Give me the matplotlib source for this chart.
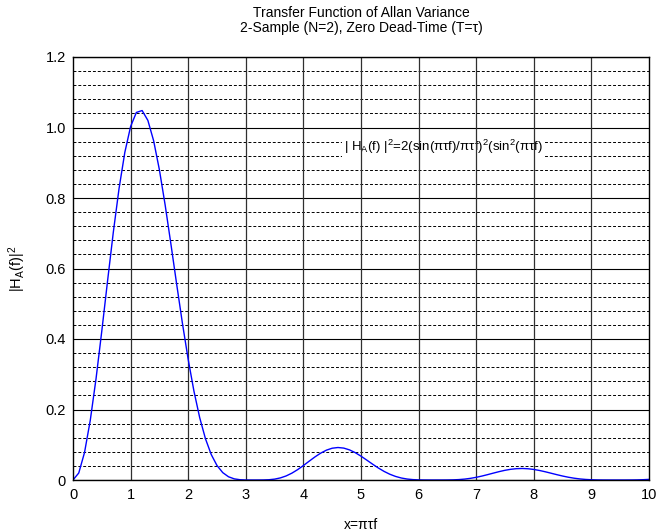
import matplotlib
matplotlib.use("Agg")
import matplotlib.pyplot as plt
import numpy as np

plt.rcParams['font.family'] = ['Liberation Sans', 'DejaVu Sans']
plt.rcParams['mathtext.fontset'] = 'custom'
plt.rcParams['mathtext.rm'] = 'Liberation Sans'
plt.rcParams['mathtext.it'] = 'Liberation Sans'
plt.rcParams['mathtext.default'] = 'regular'

x_vals = [0.0, 0.1, 0.2, 0.3, 0.4, 0.5, 0.6, 0.7, 0.8, 0.9,
          1.0, 1.1, 1.2, 1.3, 1.4, 1.5, 1.6, 1.7, 1.8, 1.9,
          2.0, 2.1, 2.2, 2.3, 2.4, 2.5, 2.6, 2.7, 2.8, 2.9,
          3.0, 3.1, 3.2, 3.3, 3.4, 3.5, 3.6, 3.7, 3.8, 3.9,
          4.0, 4.1, 4.2, 4.3, 4.4, 4.5, 4.6, 4.7, 4.8, 4.9,
          5.0, 5.1, 5.2, 5.3, 5.4, 5.5, 5.6, 5.7, 5.8, 5.9,
          6.0, 6.1, 6.2, 6.3, 6.4, 6.5, 6.6, 6.7, 6.8, 6.9,
          7.0, 7.1, 7.2, 7.3, 7.4, 7.5, 7.6, 7.7, 7.8, 7.9,
          8.0, 8.1, 8.2, 8.3, 8.4, 8.5, 8.6, 8.7, 8.8, 8.9,
          9.0, 9.1, 9.2, 9.3, 9.4, 9.5, 9.6, 9.7, 9.8, 9.9, 10.0]
h2_vals = [0.0, 0.01987, 0.07789, 0.16949, 0.28746, 0.42265, 0.56471, 0.70302, 0.82754, 0.92964,
           1.00274, 1.04270, 1.04810, 1.02013, 0.96230, 0.88002, 0.77992, 0.66926, 0.55520, 0.44426,
           0.34182, 0.25180, 0.17656, 0.11691, 0.07228, 0.04105, 0.02089, 0.00915, 0.00321, 0.00078,
           0.00009, 0.0, 0.0, 0.00011, 0.00074, 0.00247, 0.00592, 0.01151, 0.01941, 0.02942,
           0.04101, 0.05334, 0.06543, 0.07621, 0.08471, 0.09018, 0.09216, 0.09051, 0.08548, 0.07760,
           0.06764, 0.05649, 0.04506, 0.03416, 0.02446, 0.01638, 0.01013, 0.00566, 0.00277, 0.00112,
           0.00034, 0.00006, 0.0, 0.0, 0.00001, 0.00010, 0.00043, 0.00120, 0.00258, 0.00470,
           0.00760, 0.01120, 0.01531, 0.01963, 0.02383, 0.02752, 0.03039, 0.03216, 0.03268, 0.03191,
           0.02994, 0.02697, 0.02330, 0.01923, 0.01512, 0.01125, 0.00787, 0.00511, 0.00302, 0.00159,
           0.00071, 0.00025, 0.00006, 0.00001, 0.0, 0.0, 0.00002, 0.00012, 0.00038, 0.00089, 0.00175]

x_ticks = [0, 1, 2, 3, 4, 5, 6, 7, 8, 9, 10]
y_ticks = [0, 0.2, 0.4, 0.6, 0.8, 1.0, 1.2]
y_tick_labels = ['0', '0.2', '0.4', '0.6', '0.8', '1.0', '1.2']

fig = plt.figure(figsize=(6.58, 5.31), dpi=100)
ax = fig.add_axes([73/658, 1-480/531, (649-73)/658, (480-57)/531])

ax.plot(x_vals, h2_vals, color='#0000ff', lw=1.0, zorder=4)

ax.set_xlim(0, 10)
ax.set_ylim(0, 1.2)
ax.set_xticks(x_ticks)
ax.set_xticklabels([str(t) for t in x_ticks])
ax.set_yticks(y_ticks)
ax.set_yticklabels(y_tick_labels)
ax.set_yticks(np.arange(0, 1.2001, 0.04), minor=True)
ax.tick_params(axis='both', which='both', direction='in', length=0, labelsize=10.5)
ax.tick_params(axis='x', pad=6)
ax.tick_params(axis='y', pad=5)

# horizontal grid
ax.grid(True, axis='y', which='major', color='#000000', lw=0.8, ls='-', zorder=1)
ax.grid(True, axis='y', which='minor', color='#000000', lw=0.7, ls=(0, (3, 2)), zorder=1)
ax.set_axisbelow(True)
# vertical grid on top of annotation background
for xv in x_ticks[1:-1]:
    ax.axvline(xv, color='#303030', lw=0.9, zorder=3)

for s in ax.spines.values():
    s.set_linewidth(1.0)
    s.set_color('black')
    s.set_zorder(5)

ax.text(4.7, 0.945, '| H$_A$(f) |$^2$=2(sin(πτf)/πτf)$^2$(sin$^2$(πτf)',
        fontsize=9.5, ha='left', va='center', zorder=2,
        bbox=dict(facecolor='white', edgecolor='none', pad=1.0))

ax.set_title('Transfer Function of Allan Variance\n2-Sample (N=2), Zero Dead-Time (T=τ)',
             fontsize=10, pad=18, linespacing=1.05)
ax.set_xlabel('x=πτf', fontsize=10, labelpad=11)
ax.set_ylabel('|H$_A$(f)|$^2$', fontsize=10.5, labelpad=13)

fig.savefig('out.png', dpi=100)
